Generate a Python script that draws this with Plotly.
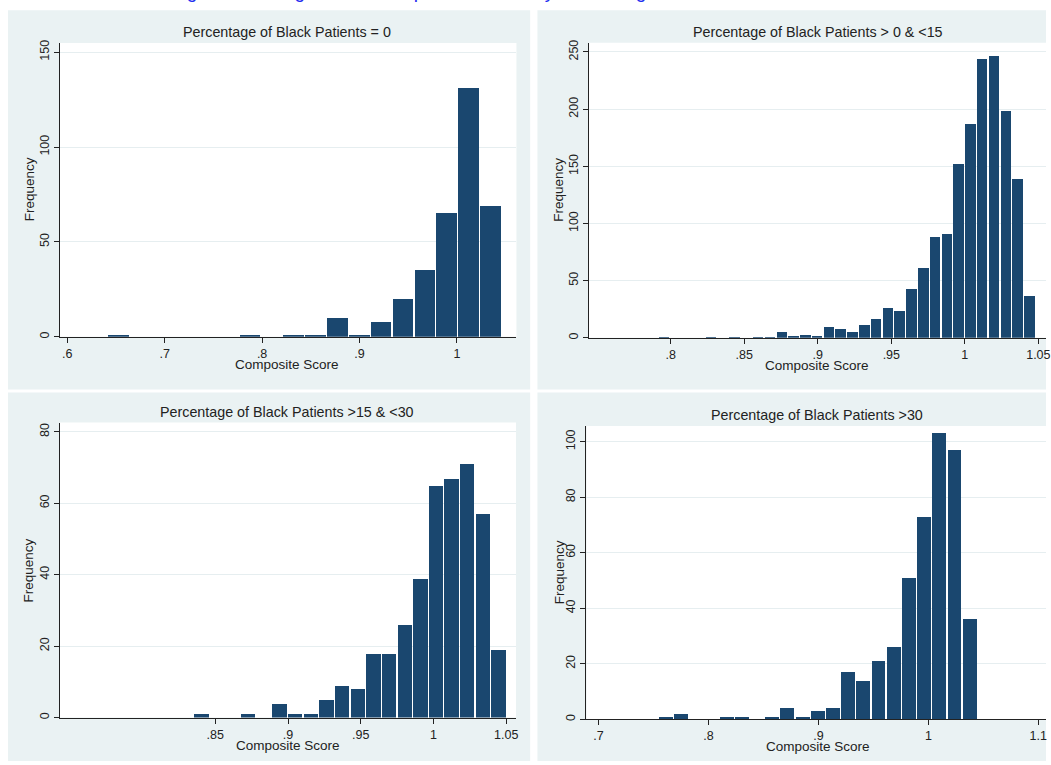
import plotly.graph_objects as go

W, H = 1051, 765

# Histogram bins of composite score: first bin edge, bin width, frequency per bin
zero_start, zero_width = 0.6415, 0.02245
zero_counts = [1, 0, 0, 0, 0, 0, 1, 0, 1, 1, 10, 1, 8, 20, 35, 65, 131, 69]

low_start, low_width = 0.7912, 0.00802
low_counts = [1, 0, 0, 0, 1, 0, 1, 0, 1, 1, 5, 2, 3, 2, 10, 8, 5, 11, 17, 26,
              24, 43, 61, 88, 91, 152, 187, 244, 247, 199, 139, 37]

mid_start, mid_width = 0.835, 0.01075
mid_counts = [1, 0, 0, 1, 0, 4, 1, 1, 5, 9, 8, 18, 18, 26, 39, 65, 67, 71, 57, 19]

high_start, high_width = 0.7549, 0.01381
high_counts = [1, 2, 0, 0, 1, 1, 0, 1, 4, 1, 3, 4, 17, 14, 21, 26, 51, 73, 103, 97, 36]

# Panel titles and axis labels
panel_titles = [
    "Percentage of Black Patients = 0",
    "Percentage of Black Patients > 0 & <15",
    "Percentage of Black Patients >15 & <30",
    "Percentage of Black Patients >30",
]
x_title = "Composite Score"
y_title = "Frequency"
figure_title = "Figure 2. Histograms of Composite Scores by Percentage of Black Patients"

# Tick values and tick labels
zero_xticks, zero_xlabels = [0.6, 0.7, 0.8, 0.9, 1.0], [".6", ".7", ".8", ".9", "1"]
low_xticks, low_xlabels = [0.8, 0.85, 0.9, 0.95, 1.0, 1.05], [".8", ".85", ".9", ".95", "1", "1.05"]
mid_xticks, mid_xlabels = [0.85, 0.9, 0.95, 1.0, 1.05], [".85", ".9", ".95", "1", "1.05"]
high_xticks, high_xlabels = [0.7, 0.8, 0.9, 1.0, 1.1], [".7", ".8", ".9", "1", "1.1"]
zero_yticks = [0, 50, 100, 150]
low_yticks = [0, 50, 100, 150, 200, 250]
mid_yticks = [0, 20, 40, 60, 80]
high_yticks = [0, 20, 40, 60, 80, 100]

NAVY = "#1A476F"
PANEL_BG = "#EAF2F3"
GRID = "#E6EEF0"
INK = "#222222"
FONT = "Liberation Sans, Arial, sans-serif"

# Layout of each panel in pixels: plot box (x0, y0, x1, y1), panel box, axis ranges,
# title / axis-title centres
panels = [
    dict(start=zero_start, width=zero_width, counts=zero_counts,
         xticks=zero_xticks, xlabels=zero_xlabels, yticks=zero_yticks,
         plot=(60.2, 40.3, 518.9, 336.0), box=(8, 7.3, 532.7, 389),
         xr=(0.5924, 1.0611), yr=(0, 154.8),
         title=(288, 29), xt=(288, 363.5), yt=(29.7, 188)),
    dict(start=low_start, width=low_width, counts=low_counts,
         xticks=low_xticks, xlabels=low_xlabels, yticks=low_yticks,
         plot=(591.7, 40.0, 1051, 337.0), box=(540, 7.3, 1051, 389),
         xr=(0.7443, 1.0552), yr=(0, 258.1),
         title=(821.7, 29), xt=(821.3, 365), yt=(561.7, 188)),
    dict(start=mid_start, width=mid_width, counts=mid_counts,
         xticks=mid_xticks, xlabels=mid_xlabels, yticks=mid_yticks,
         plot=(60.2, 422.3, 518.5, 719.3), box=(8, 392, 532.7, 763),
         xr=(0.7432, 1.0567), yr=(0, 82.6),
         title=(288.5, 411.7), xt=(289, 747.7), yt=(28.7, 571.7)),
    dict(start=high_start, width=high_width, counts=high_counts,
         xticks=high_xticks, xlabels=high_xlabels, yticks=high_yticks,
         plot=(589.3, 425.7, 1051, 721.0), box=(540, 392, 1051, 763),
         xr=(0.6891, 1.107), yr=(0, 105.7),
         title=(820.8, 414.3), xt=(822.2, 748.3), yt=(561.7, 573)),
]


def px_x(v):
    return v / W


def px_y(v):
    return 1 - v / H


fig = go.Figure()
shapes = []
annotations = []
layout_axes = {}

for i, p in enumerate(panels):
    n = i + 1
    xa = "x" if n == 1 else f"x{n}"
    ya = "y" if n == 1 else f"y{n}"
    x0, y0, x1, y1 = p["plot"]
    span = p["xr"][1] - p["xr"][0]
    px_per_unit = (x1 - x0) / span
    centers = [p["start"] + (k + 0.5) * p["width"] for k in range(len(p["counts"]))]
    drawn_width = p["width"] - 1.3 / px_per_unit

    fig.add_trace(go.Bar(
        x=centers, y=p["counts"], width=drawn_width,
        marker=dict(color=NAVY, line=dict(width=0)),
        xaxis=xa, yaxis=ya, showlegend=False, hoverinfo="x+y",
    ))

    # light panel background and white plot region
    bx0, by0, bx1, by1 = p["box"]
    shapes.append(dict(type="rect", xref="paper", yref="paper",
                       x0=px_x(bx0), x1=px_x(bx1), y0=px_y(by1), y1=px_y(by0),
                       fillcolor=PANEL_BG, line=dict(width=0), layer="below"))
    shapes.append(dict(type="rect", xref=f"{xa} domain", yref=f"{ya} domain",
                       x0=0, x1=1, y0=0, y1=1,
                       fillcolor="white", line=dict(width=0), layer="below"))

    key_x = "xaxis" if n == 1 else f"xaxis{n}"
    key_y = "yaxis" if n == 1 else f"yaxis{n}"
    layout_axes[key_x] = dict(
        domain=[px_x(x0), min(1.0, px_x(x1))], range=list(p["xr"]), anchor=ya,
        tickmode="array", tickvals=p["xticks"], ticktext=p["xlabels"],
        ticks="outside", ticklen=5, tickwidth=1, tickcolor=INK,
        ticklabeloverflow="allow",
        showline=True, linecolor=INK, linewidth=1,
        showgrid=False, zeroline=False, fixedrange=True,
        tickfont=dict(family=FONT, size=12.5, color=INK),
    )
    layout_axes[key_y] = dict(
        domain=[px_y(y1), px_y(y0)], range=list(p["yr"]), anchor=xa,
        tickmode="array", tickvals=p["yticks"], tickangle=-90,
        ticks="outside", ticklen=5, tickwidth=1, tickcolor=INK,
        showline=True, linecolor=INK, linewidth=1,
        showgrid=True, gridcolor=GRID, gridwidth=1, zeroline=False, fixedrange=True,
        tickfont=dict(family=FONT, size=12.5, color=INK),
    )

    tx, ty = p["title"]
    annotations.append(dict(text=panel_titles[i], x=px_x(tx), y=px_y(ty),
                            xref="paper", yref="paper", xanchor="center", yanchor="middle",
                            showarrow=False, font=dict(family=FONT, size=14.3, color=INK)))
    ax_, ay_ = p["xt"]
    annotations.append(dict(text=x_title, x=px_x(ax_), y=px_y(ay_),
                            xref="paper", yref="paper", xanchor="center", yanchor="middle",
                            showarrow=False, font=dict(family=FONT, size=13.5, color=INK)))
    yx_, yy_ = p["yt"]
    annotations.append(dict(text=y_title, x=px_x(yx_), y=px_y(yy_), textangle=-90,
                            xref="paper", yref="paper", xanchor="center", yanchor="middle",
                            showarrow=False, font=dict(family=FONT, size=13.5, color=INK)))

# figure heading, running above the top edge of the page (only its descenders show)
annotations.append(dict(text=figure_title, x=px_x(490), y=px_y(1.0),
                        xref="paper", yref="paper", xanchor="center", yanchor="bottom",
                        showarrow=False, font=dict(family=FONT, size=19, color="#1E2EF0")))

fig.update_layout(
    width=W, height=H,
    margin=dict(l=0, r=0, t=0, b=0),
    paper_bgcolor="white",
    plot_bgcolor="rgba(0,0,0,0)",
    bargap=0,
    shapes=shapes,
    annotations=annotations,
    showlegend=False,
    **layout_axes,
)

fig.write_html("out.html", config={"displayModeBar": False})
